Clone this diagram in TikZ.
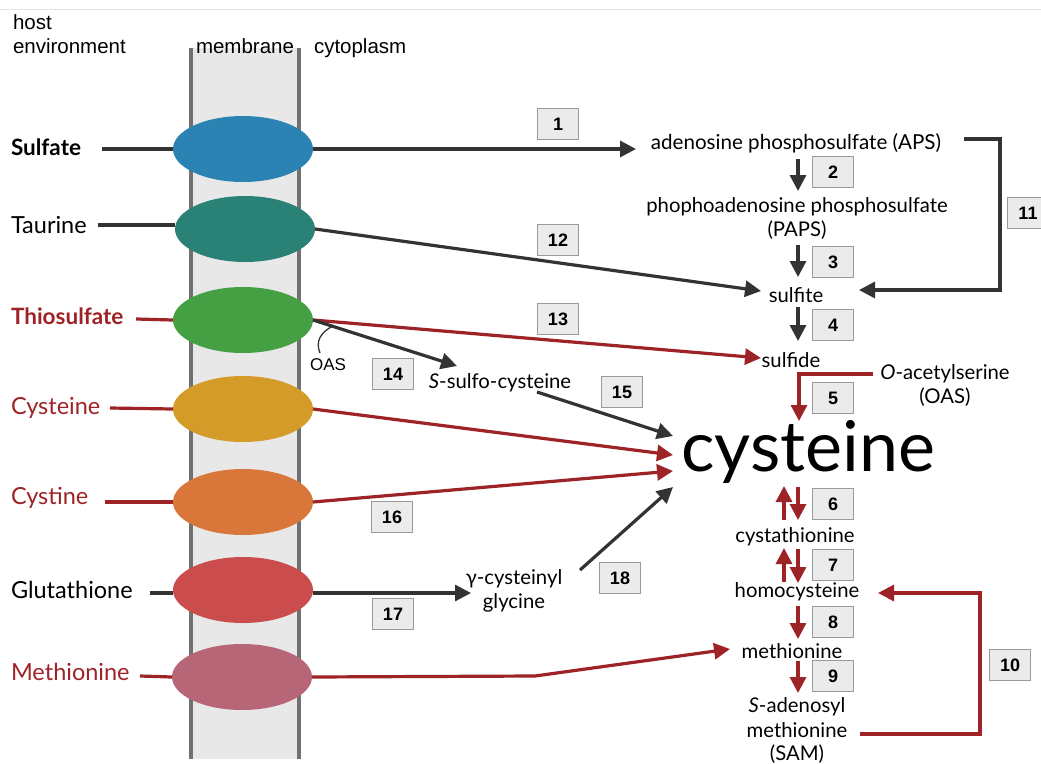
\documentclass[tikz,border=0pt]{standalone}
\usepackage{fontspec}
\setmainfont{Lato}
\newfontfamily\hdr{Liberation Sans}
\usetikzlibrary{shapes.geometric,arrows.meta}
\definecolor{dk}{HTML}{333333}
\definecolor{rd}{HTML}{9E2326}
\definecolor{boxfill}{HTML}{EBEBEB}
\definecolor{boxline}{HTML}{9A9A9A}
\definecolor{memfill}{HTML}{E8E8E8}
\definecolor{memline}{HTML}{717171}
\tikzset{
  every node/.style={inner sep=0pt, outer sep=0pt},
  num/.style={draw=boxline, fill=boxfill, line width=1.3pt, minimum width=41pt, minimum height=31pt, font=\hdr\bfseries\fontsize{18}{18}\selectfont},
  tr/.style={ellipse, minimum width=140pt, minimum height=66pt},
  lab/.style={font=\fontsize{23.5}{24}\selectfont},
  blab/.style={font=\bfseries\fontsize{22.5}{24}\selectfont},
  met/.style={font=\fontsize{20.3}{24}\selectfont, align=center},
  hd/.style={font=\hdr\fontsize{20.5}{22}\selectfont},
  tipA/.style={-{Triangle[length=16pt,width=16pt]}},
  darr/.style={draw=dk, line width=3.2pt, tipA},
  rarr/.style={draw=rd, line width=3.2pt, tipA},
  dline/.style={draw=dk, line width=3.2pt},
  rline/.style={draw=rd, line width=3.2pt},
}
\begin{document}
\begin{tikzpicture}[x=1pt,y=-1pt]
\useasboundingbox (0,0) rectangle (1041,763);
\fill[white] (0,0) rectangle (1041,763);
\draw[gray!20, line width=0.8pt] (0,9) -- (1041,9);
% membrane
\fill[memfill] (191,48) rectangle (299,759);
\draw[memline, line width=4.5pt] (191,48) -- (191,759);
\draw[memline, line width=4.5pt] (299,48) -- (299,759);
% headers
\node[hd, anchor=base west] (h1) at (13,29) {host};
\node[hd, anchor=base west] (h2) at (13,53) {environment};
\node[hd, anchor=base west] (h3) at (196,53) {membrane};
\node[hd, anchor=base west] (h4) at (314,53) {cytoplasm};
% transporters
\node[tr, fill={rgb,255:red,43;green,131;blue,179}] (t1) at (243,149) {};
\node[tr, fill={rgb,255:red,42;green,130;blue,118}] (t2) at (245,229) {};
\node[tr, fill={rgb,255:red,68;green,160;blue,67}] (t3) at (243,320) {};
\node[tr, fill={rgb,255:red,212;green,155;blue,40}] (t4) at (243,409) {};
\node[tr, fill={rgb,255:red,217;green,119;blue,58}] (t5) at (243,502) {};
\node[tr, fill={rgb,255:red,203;green,76;blue,76}] (t6) at (243,590) {};
\node[tr, fill={rgb,255:red,183;green,102;blue,120}] (t7) at (242,677) {};
% left labels
\node[blab, anchor=west] (l1) at (11,147) {Sulfate};
\node[lab, anchor=west] (l2) at (11,225) {Taurine};
\node[blab, anchor=west, text=rd] (l3) at (11,316) {Thiosulfate};
\node[lab, anchor=west, text=rd] (l4) at (11,408) {Cysteine};
\node[lab, anchor=west, text=rd] (l5) at (11,498) {Cystine};
\node[lab, anchor=west] (l6) at (11,590) {Glutathione};
\node[lab, anchor=west, text=rd] (l7) at (11,672) {Methionine};
\coordinate (a1) at (102,149);
\coordinate (a2) at (98,225);
\coordinate (a3) at (136,319);
\coordinate (a4) at (110,408);
\coordinate (a5) at (105,502);
\coordinate (a6) at (150,593);
\coordinate (a7) at (140,676);
\draw[dline] (a1) -- (t1.west);
\draw[dline] (a2) -- (a2 -| t2.west);
\draw[rline] (a3) -- (t3.west);
\draw[rline] (a4) -- (t4.west);
\draw[rline] (a5) -- (t5.west);
\draw[dline] (a6) -- (a6 -| t6.west);
\draw[rline] (a7) -- (t7.west);
% metabolites
\node[met, font=\fontsize{20.6}{24}\selectfont] (aps) at (796,143) {adenosine phosphosulfate (APS)};
\node[met] (paps) at (797,219) {phophoadenosine phosphosulfate\\(PAPS)};
\node[met] (sulfite) at (796,295) {sulfite};
\node[met] (sulfide) at (791,360) {sulfide};
\node[met] (oas) at (945,386) {\textit{O}-acetylserine\\(OAS)};
\node[font=\fontsize{70}{70}\selectfont] (cys) at (808,452) {cysteine};
\node[met] (cth) at (795,537) {cystathionine};
\node[met] (hcy) at (797,592) {homocysteine};
\node[met] (met) at (792,651) {methionine};
\node[met] (sam) at (797,731) {\textit{S}-adenosyl\\methionine\\(SAM)};
\node[met] (ssc) at (500,383) {\textit{S}-sulfo-cysteine};
\node[met] (gcg) at (514,591) {γ-cysteinyl\\glycine};
\node[font=\hdr\fontsize{17}{18}\selectfont] (oaslab) at (328,365) {OAS};
% number boxes
\node[num] (n1) at (558,124) {1};
\node[num] (n2) at (833,172) {2};
\node[num] (n3) at (833,262) {3};
\node[num] (n4) at (833,325) {4};
\node[num] (n5) at (833,398) {5};
\node[num] (n6) at (833,504) {6};
\node[num] (n7) at (833,565) {7};
\node[num] (n8) at (833,622) {8};
\node[num] (n9) at (833,676) {9};
\node[num] (n10) at (1010,665) {10};
\node[num] (n11) at (1028,213) {11};
\node[num] (n12) at (558,240) {12};
\node[num] (n13) at (558,319) {13};
\node[num] (n14) at (393,374) {14};
\node[num] (n15) at (622,392) {15};
\node[num] (n16) at (392,517) {16};
\node[num] (n17) at (393,614) {17};
\node[num] (n18) at (620,578) {18};
% main pathway arrows
\coordinate (p1) at (636,149);
\draw[darr] (t1.east) -- (p1);
\draw[darr] (798,159) -- (798,191);
\draw[darr] (798,245) -- (798,277);
\draw[darr] (798,307) -- (798,341);
\coordinate (s11a) at (964,139);
\coordinate (s11b) at (859,290);
\draw[darr] (s11a) -- (1000,139) -- (1000,290) -- (s11b);
\coordinate (e12) at (761,291);
\draw[darr] (t2.east) -- (e12);
\coordinate (e13) at (761,358);
\draw[rarr] (t3.east) -- (e13);
\coordinate (e14) at (457,366);
\draw[darr] (t3.east) -- (e14);
\draw[dk, line width=1.3pt] (320,353) .. controls (315,341) and (321,332) .. (333,326);
\coordinate (s15) at (537,392);
\coordinate (e15) at (673,436);
\draw[darr] (s15) -- (e15);
\coordinate (e4) at (673,455);
\draw[rarr] (t4.east) -- (e4);
\coordinate (e5) at (673,471);
\draw[rarr] (t5.east) -- (e5);
\coordinate (e17) at (471,593);
\draw[darr] (e17 -| t6.east) -- (e17);
\coordinate (s18) at (580,570);
\coordinate (e18) at (673,487);
\draw[darr] (s18) -- (e18);
\coordinate (e7) at (730,649);
\draw[rarr] (t7.east) -- (535,676) -- (e7);
% red pathway
\coordinate (s5) at (873,374);
\draw[rline] (s5) -- (799,374);
\draw[rarr] (799,372) -- (799,421);
\draw[rarr] (784,520) -- (784,486);
\draw[rarr] (798,487) -- (798,520);
\draw[rarr] (784,582) -- (784,548);
\draw[rarr] (798,549) -- (798,583);
\draw[rarr] (798,606) -- (798,639);
\draw[rarr] (798,661) -- (798,693);
\coordinate (s10) at (860,734);
\coordinate (e10) at (878,593);
\draw[rarr] (s10) -- (980,734) -- (980,593) -- (e10);
\end{tikzpicture}
\end{document}
